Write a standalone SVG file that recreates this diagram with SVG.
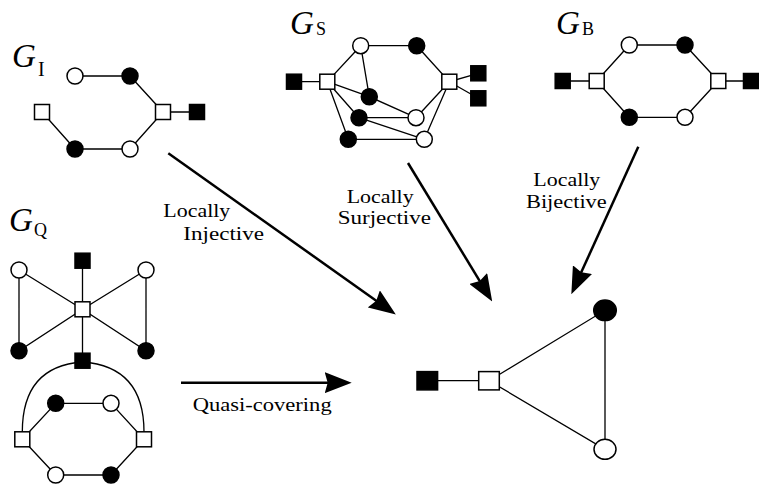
<svg xmlns="http://www.w3.org/2000/svg" width="759" height="484" viewBox="0 0 759 484">
<defs>
<style>
.e{stroke:#000;stroke-width:1.3;fill:none}
.w{fill:#fff;stroke:#000;stroke-width:1.5}
.b{fill:#000;stroke:#000;stroke-width:1.5}
.arr{stroke:#000;stroke-width:2.5;fill:none;marker-end:url(#ah)}
.lbl{font-family:"Liberation Serif","Times New Roman",serif;font-size:19px;fill:#000}
.g{font-family:"Liberation Serif","Times New Roman",serif;font-style:italic;font-size:33px;fill:#000}
.sub{font-family:"Liberation Serif","Times New Roman",serif;font-size:18px;fill:#000}
</style>
<marker id="ah" viewBox="0 0 27 21" refX="6" refY="10.5" markerWidth="27" markerHeight="21" markerUnits="userSpaceOnUse" orient="auto">
<path d="M0,0 L27,10.5 L0,21 L3,10.5 Z" fill="#000"/>
</marker>
</defs>
<rect width="759" height="484" fill="#fff"/>

<g id="connectors">
<!-- G_I -->
<path class="e" d="M75,76 L130,76 L163,112 L197,112 M163,112 L130,149 L75,149 L42,112"/>
<!-- G_S -->
<path class="e" d="M294,81.7 L327.3,81.7 L360.7,45.7 L416.7,45.7 L449.3,81.7 L478.3,73.3 M449.3,81.7 L478.3,98.3 M360.7,45.7 L369.3,96.7 L416,117.7 L359,117.7 L424.3,139.3 L348.3,139.3 M327.3,81.7 L369.3,96.7 M327.3,81.7 L359,117.7 M327.3,81.7 L348.3,139.3 M449.3,81.7 L416,117.7 M449.3,81.7 L424.3,139.3"/>
<!-- G_B -->
<path class="e" d="M562.7,81 L596.7,81 L629.3,45 L685,45 L718.3,81 L751,81 M596.7,81 L629.3,117.3 L685,117.3 L718.3,81"/>
<!-- G_Q -->
<path class="e" d="M82.5,260.7 L82.5,360.7 M19,270 L19,350.7 L82.5,309.3 L19,270 M146,270 L146,350.7 L82.5,309.3 L146,270 M22.3,439.3 L55.7,403.3 L111,403.3 L144,439.3 L111,475 L55.7,475 L22.3,439.3"/>
<path class="e" d="M22.3,432 C22.3,390 40,365 82.5,362 C125,365 144,390 144,432"/>
<!-- H -->
<path class="e" d="M427.3,380.7 L489,380.7 L605,310.3 L605,449.3 L489,380.7"/>
<!-- arrows -->
<line class="arr" x1="168.3" y1="153.3" x2="378.7" y2="302.4"/>
<line class="arr" x1="408" y1="163" x2="481.3" y2="283.6"/>
<line class="arr" x1="638.3" y1="146.7" x2="580" y2="275.1"/>
<line class="arr" x1="181" y1="382.7" x2="330.7" y2="382.7"/>
</g>

<g id="labels">
<text class="lbl" x="163.3" y="217" textLength="67" lengthAdjust="spacingAndGlyphs">Locally</text>
<text class="lbl" x="183.3" y="239.5" textLength="80.7" lengthAdjust="spacingAndGlyphs">Injective</text>
<text class="lbl" x="346.7" y="203.3" textLength="67" lengthAdjust="spacingAndGlyphs">Locally</text>
<text class="lbl" x="337.7" y="224" textLength="93.3" lengthAdjust="spacingAndGlyphs">Surjective</text>
<text class="lbl" x="533.3" y="186" textLength="67" lengthAdjust="spacingAndGlyphs">Locally</text>
<text class="lbl" x="526" y="208" textLength="80.7" lengthAdjust="spacingAndGlyphs">Bijective</text>
<text class="lbl" x="192.7" y="410.5" textLength="139" lengthAdjust="spacingAndGlyphs">Quasi-covering</text>
</g>

<g id="title-GI"><text class="g" x="12" y="67">G</text><text class="sub" x="38" y="75.5" style="font-size:20px">I</text></g>
<g id="title-GS"><text class="g" x="290" y="33.5">G</text><text class="sub" x="316" y="35">S</text></g>
<g id="title-GB"><text class="g" x="556" y="33.5">G</text><text class="sub" x="582" y="35">B</text></g>
<g id="title-GQ"><text class="g" x="9" y="231">G</text><text class="sub" x="34" y="236">Q</text></g>

<!-- G_I nodes -->
<g id="gi-w1"><circle class="w" cx="75" cy="76" r="8"/></g>
<g id="gi-b1"><circle class="b" cx="130" cy="76" r="8"/></g>
<g id="gi-sq1"><rect class="w" x="155.5" y="104.5" width="15" height="15"/></g>
<g id="gi-bs1"><rect class="b" x="189.5" y="104.5" width="15" height="15"/></g>
<g id="gi-sq2"><rect class="w" x="34.5" y="104.5" width="15" height="15"/></g>
<g id="gi-b2"><circle class="b" cx="75" cy="149" r="8"/></g>
<g id="gi-w2"><circle class="w" cx="130" cy="149" r="8"/></g>

<!-- G_S nodes -->
<g id="gs-bsL"><rect class="b" x="286.5" y="74.2" width="15" height="15"/></g>
<g id="gs-sqL"><rect class="w" x="319.8" y="74.2" width="15" height="15"/></g>
<g id="gs-wT"><circle class="w" cx="360.7" cy="45.7" r="8"/></g>
<g id="gs-bT"><circle class="b" cx="416.7" cy="45.7" r="8"/></g>
<g id="gs-sqR"><rect class="w" x="441.8" y="74.2" width="15" height="15"/></g>
<g id="gs-bsR1"><rect class="b" x="470.8" y="65.8" width="15" height="15"/></g>
<g id="gs-bsR2"><rect class="b" x="470.8" y="90.8" width="15" height="15"/></g>
<g id="gs-bI"><circle class="b" cx="369.3" cy="96.7" r="8"/></g>
<g id="gs-bM"><circle class="b" cx="359" cy="117.7" r="8"/></g>
<g id="gs-wM"><circle class="w" cx="416" cy="117.7" r="8"/></g>
<g id="gs-bB"><circle class="b" cx="348.3" cy="139.3" r="8"/></g>
<g id="gs-wB"><circle class="w" cx="424.3" cy="139.3" r="8"/></g>

<!-- G_B nodes -->
<g id="gb-bsL"><rect class="b" x="555.2" y="73.5" width="15" height="15"/></g>
<g id="gb-sqL"><rect class="w" x="589.2" y="73.5" width="15" height="15"/></g>
<g id="gb-wT"><circle class="w" cx="629.3" cy="45" r="8"/></g>
<g id="gb-bT"><circle class="b" cx="685" cy="45" r="8"/></g>
<g id="gb-sqR"><rect class="w" x="710.8" y="73.5" width="15" height="15"/></g>
<g id="gb-bsR"><rect class="b" x="743.5" y="73.5" width="15" height="15"/></g>
<g id="gb-bB"><circle class="b" cx="629.3" cy="117.3" r="8"/></g>
<g id="gb-wB"><circle class="w" cx="685" cy="117.3" r="8"/></g>

<!-- G_Q nodes -->
<g id="gq-bsT"><rect class="b" x="75" y="253.2" width="15" height="15"/></g>
<g id="gq-wL"><circle class="w" cx="19" cy="270" r="8"/></g>
<g id="gq-wR"><circle class="w" cx="146" cy="270" r="8"/></g>
<g id="gq-sqC"><rect class="w" x="75" y="301.8" width="15" height="15"/></g>
<g id="gq-bL"><circle class="b" cx="19" cy="350.7" r="8"/></g>
<g id="gq-bR"><circle class="b" cx="146" cy="350.7" r="8"/></g>
<g id="gq-bsM"><rect class="b" x="75" y="353.2" width="15" height="15"/></g>
<g id="gq-b1"><circle class="b" cx="55.7" cy="403.3" r="8"/></g>
<g id="gq-w1"><circle class="w" cx="111" cy="403.3" r="8"/></g>
<g id="gq-sqL"><rect class="w" x="14.8" y="431.8" width="15" height="15"/></g>
<g id="gq-sqR"><rect class="w" x="136.5" y="431.8" width="15" height="15"/></g>
<g id="gq-wBt"><circle class="w" cx="55.7" cy="475" r="8"/></g>
<g id="gq-bBt"><circle class="b" cx="111" cy="475" r="8"/></g>

<!-- H nodes -->
<g id="h-bs"><rect class="b" x="417" y="371.6" width="20.6" height="18.3"/></g>
<g id="h-sq"><rect class="w" x="478.7" y="371.6" width="20.6" height="18.3"/></g>
<g id="h-b"><ellipse class="b" cx="605" cy="310.3" rx="11.3" ry="10.3"/></g>
<g id="h-w"><ellipse class="w" cx="605" cy="449.3" rx="11" ry="10"/></g>
</svg>
